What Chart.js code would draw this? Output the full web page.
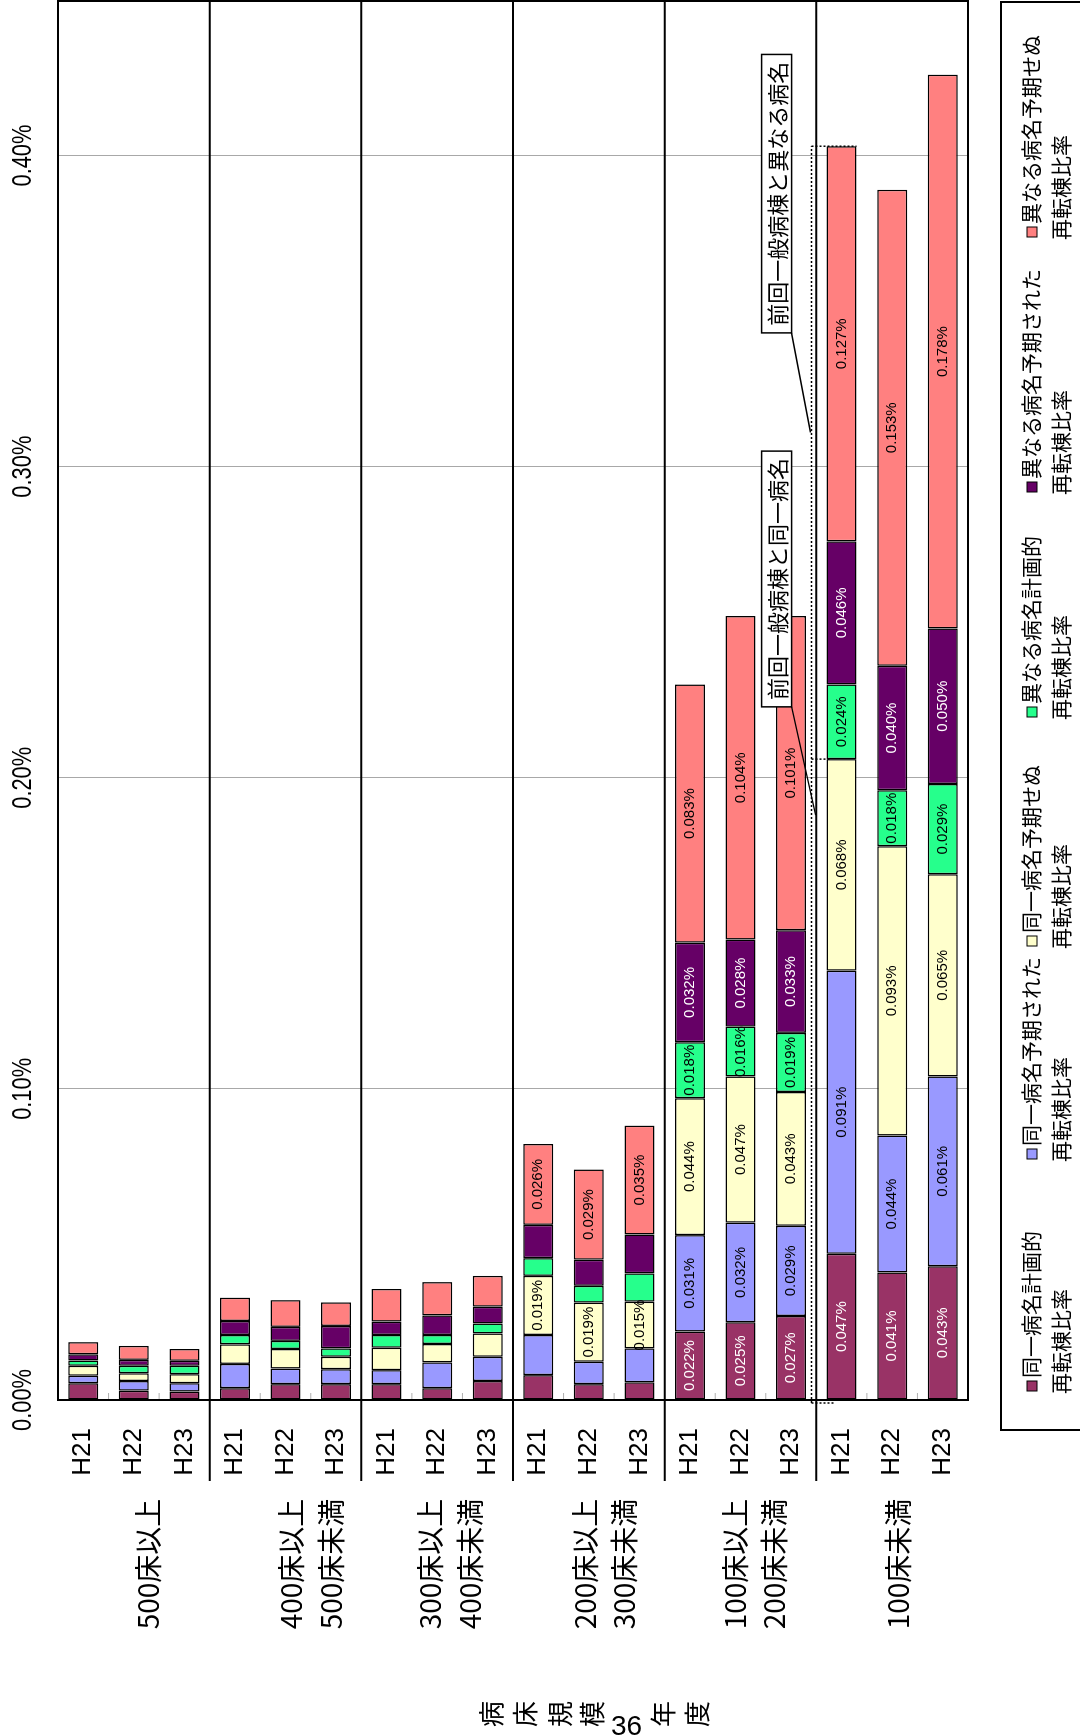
<!DOCTYPE html>
<html lang="ja">
<head>
<meta charset="utf-8">
<script src="https://cdn.jsdelivr.net/npm/chart.js@4.4.1/dist/chart.umd.min.js"></script>
<style>
  html, body { margin: 0; padding: 0; background: #fff; }
  body { width: 1080px; height: 1735px; overflow: hidden; position: relative; }
  /* the chart is laid out landscape and turned to read bottom-to-top */
  #sheet {
    position: absolute; left: 0; top: 0; width: 1735px; height: 1080px;
    transform-origin: 0 0; transform: translate(0, 1735px) rotate(-90deg);
  }
  #page-no {
    position: absolute; left: 611px; top: 1712px;
    font: 28px 'Liberation Sans', Arial, sans-serif; line-height: 28px; color: #000;
  }
</style>
</head>
<body>
<div id="sheet"><canvas id="chart" width="1735" height="1080"></canvas></div>
<div id="page-no">36</div>
<script>
// 病床規模 x 年度, 再転棟比率 (%)
const years = ['H21', 'H22', 'H23'];
const groups = [
  ['500床以上'],
  ['400床以上', '500床未満'],
  ['300床以上', '400床未満'],
  ['200床以上', '300床未満'],
  ['100床以上', '200床未満'],
  ['100床未満']
];
const valueTicks = [0, 0.1, 0.2, 0.3, 0.4];

const samePlanned    = [0.0054, 0.0030, 0.0027, 0.0038, 0.0051, 0.0051, 0.0051, 0.0038, 0.0061, 0.0080, 0.0051, 0.0057, 0.022, 0.025, 0.027, 0.047, 0.041, 0.043];
const sameExpected   = [0.0024, 0.0031, 0.0027, 0.0078, 0.0050, 0.0048, 0.0045, 0.0083, 0.0078, 0.0129, 0.0072, 0.0109, 0.031, 0.032, 0.029, 0.091, 0.044, 0.061];
const sameUnexpected = [0.0032, 0.0025, 0.0029, 0.0063, 0.0063, 0.0040, 0.0072, 0.0059, 0.0075, 0.019, 0.019, 0.015, 0.044, 0.047, 0.043, 0.068, 0.093, 0.065];
const diffPlanned    = [0.0017, 0.0024, 0.0027, 0.0030, 0.0026, 0.0027, 0.0041, 0.0029, 0.0032, 0.0057, 0.0054, 0.0091, 0.018, 0.016, 0.019, 0.024, 0.018, 0.029];
const diffExpected   = [0.0020, 0.0019, 0.0016, 0.0045, 0.0045, 0.0072, 0.0043, 0.0063, 0.0054, 0.0107, 0.0084, 0.0125, 0.032, 0.028, 0.033, 0.046, 0.040, 0.050];
const diffUnexpected = [0.0039, 0.0045, 0.0038, 0.0075, 0.0086, 0.0076, 0.0105, 0.0107, 0.0099, 0.026, 0.029, 0.035, 0.083, 0.104, 0.101, 0.127, 0.153, 0.178];

const seriesNames = [
  ['同一病名計画的', '再転棟比率'],
  ['同一病名予期された', '再転棟比率'],
  ['同一病名予期せぬ', '再転棟比率'],
  ['異なる病名計画的', '再転棟比率'],
  ['異なる病名予期された', '再転棟比率'],
  ['異なる病名予期せぬ', '再転棟比率']
];
const series = [samePlanned, sameExpected, sameUnexpected, diffPlanned, diffExpected, diffUnexpected];
const colors = ['#993366', '#9999FF', '#FFFFCC', '#26FF8C', '#660066', '#FF8080'];
const whiteText = [true, false, false, false, true, false];
const labelMin = 0.015;

const labels = groups.flatMap(() => years);
const SANS = "'Liberation Sans', Arial, sans-serif";
const CJK = "'Noto Sans CJK JP', 'Noto Sans', sans-serif";

const barLabels = {
  id: 'barLabels',
  afterDatasetsDraw(chart) {
    const ctx = chart.ctx;
    ctx.save();
    ctx.font = '15px ' + SANS;
    ctx.textAlign = 'center';
    ctx.textBaseline = 'middle';
    chart.data.datasets.forEach((ds, i) => {
      chart.getDatasetMeta(i).data.forEach((bar, j) => {
        const v = ds.data[j];
        if (v < labelMin) return;
        ctx.fillStyle = whiteText[i] ? '#fff' : '#000';
        ctx.fillText(v.toFixed(3) + '%', (bar.x + bar.base) / 2, bar.y);
      });
    });
    ctx.restore();
  }
};

// percent labels on the value axis, drawn a bit condensed
const valueLabels = {
  id: 'valueLabels',
  afterDraw(chart) {
    const { ctx, scales: { x } } = chart;
    ctx.save();
    ctx.font = '28px ' + SANS;
    ctx.fillStyle = '#000';
    ctx.textAlign = 'center';
    ctx.textBaseline = 'middle';
    valueTicks.forEach(v => {
      ctx.save();
      ctx.translate(x.getPixelForValue(v), 23);
      ctx.scale(0.78, 1);
      ctx.fillText(v.toFixed(2) + '%', 0, 0);
      ctx.restore();
    });
    ctx.restore();
  }
};

const frame = {
  id: 'frame',
  afterDraw(chart) {
    const { ctx, chartArea: a, scales: { y } } = chart;
    const step = y.getPixelForValue(1) - y.getPixelForValue(0);
    ctx.save();

    // small inner ticks between years
    ctx.strokeStyle = '#b0b0b0';
    ctx.lineWidth = 1;
    for (let i = 1; i < labels.length; i++) {
      if (i % 3 === 0) continue;
      const py = y.getPixelForValue(i) - step / 2;
      ctx.beginPath();
      ctx.moveTo(a.left, py);
      ctx.lineTo(a.left + 7, py);
      ctx.stroke();
    }

    // plot border
    ctx.strokeStyle = '#000';
    ctx.lineWidth = 2;
    ctx.strokeRect(a.left, a.top, a.right - a.left - 1, a.bottom - a.top);

    // group separators, running out through the year labels
    for (let g = 1; g < groups.length; g++) {
      const py = y.getPixelForValue(g * 3) - step / 2;
      ctx.beginPath();
      ctx.moveTo(254, py);
      ctx.lineTo(a.right, py);
      ctx.stroke();
    }

    // group names
    const nameY = [[148], [291, 331], [430, 470], [585, 624], [735, 774], [898]];
    ctx.fillStyle = '#000';
    ctx.font = '28px ' + CJK;
    ctx.textAlign = 'center';
    ctx.textBaseline = 'middle';
    groups.forEach((lines, g) => {
      lines.forEach((t, k) => ctx.fillText(t, 171, nameY[g][k]));
    });

    // axis titles, written vertically
    ctx.font = '26px ' + CJK;
    [['病', 491], ['床', 525], ['規', 560], ['模', 592], ['年', 663], ['度', 697]]
      .forEach(([ch, py]) => ctx.fillText(ch, 21, py));
    ctx.restore();
  }
};

const callouts = {
  id: 'callouts',
  afterDraw(chart) {
    const { ctx, scales: { x, y } } = chart;
    const i = 15;
    const cy = y.getPixelForValue(i);
    const sameTop = samePlanned[i] + sameExpected[i] + sameUnexpected[i];
    const allTop = sameTop + diffPlanned[i] + diffExpected[i] + diffUnexpected[i];
    const lineY = cy - 30;
    ctx.save();

    // dotted bracket around the two halves of the bar
    ctx.strokeStyle = '#000';
    ctx.lineWidth = 1.5;
    ctx.setLineDash([2, 2]);
    const x0 = x.getPixelForValue(0) - 3;
    const xMid = x.getPixelForValue(sameTop);
    const xTop = x.getPixelForValue(allTop);
    ctx.beginPath();
    ctx.moveTo(x0, lineY); ctx.lineTo(xTop, lineY);
    ctx.moveTo(xTop, lineY); ctx.lineTo(xTop, cy + 15);
    ctx.moveTo(xMid, lineY); ctx.lineTo(xMid, cy - 12);
    ctx.moveTo(x0, lineY); ctx.lineTo(x0, cy - 7);
    ctx.stroke();
    ctx.setLineDash([]);

    // text boxes with leader lines
    const boxes = [
      { text: '前回一般病棟と異なる病名', from: 0.343, to: 0.4325, tip: 0.311, tipDy: -31 },
      { text: '前回一般病棟と同一病名', from: 0.2228, to: 0.305, tip: 0.188, tipDy: -26 }
    ];
    ctx.font = '22px ' + CJK;
    ctx.textAlign = 'center';
    ctx.textBaseline = 'middle';
    boxes.forEach(b => {
      const l = x.getPixelForValue(b.from);
      const r = x.getPixelForValue(b.to);
      const top = cy - 80, bot = cy - 50;
      ctx.lineWidth = 1.5;
      ctx.beginPath();
      ctx.moveTo(l, bot);
      ctx.lineTo(x.getPixelForValue(b.tip), cy + b.tipDy);
      ctx.stroke();
      ctx.fillStyle = '#fff';
      ctx.fillRect(l, top, r - l, bot - top);
      ctx.strokeRect(l, top, r - l, bot - top);
      ctx.fillStyle = '#000';
      ctx.fillText(b.text, (l + r) / 2, (top + bot) / 2 + 1);
    });
    ctx.restore();
  }
};

const legendBox = {
  id: 'legendBox',
  afterDraw(chart) {
    const ctx = chart.ctx;
    const slots = [349, 581, 794, 1023, 1248, 1503];
    ctx.save();
    ctx.strokeStyle = '#000';
    ctx.lineWidth = 2;
    ctx.strokeRect(305, 1001, 1428, 100);
    ctx.font = '21px ' + CJK;
    ctx.textAlign = 'left';
    ctx.textBaseline = 'middle';
    seriesNames.forEach((lines, k) => {
      const lx = slots[k];
      ctx.fillStyle = colors[k];
      ctx.fillRect(lx - 5, 1027, 10, 10);
      ctx.lineWidth = 1;
      ctx.strokeRect(lx - 5, 1027, 10, 10);
      ctx.fillStyle = '#000';
      ctx.fillText(lines[0], lx + 8, 1031);
      ctx.fillText(lines[1], lx - 8, 1061);
    });
    ctx.restore();
  }
};

new Chart(document.getElementById('chart'), {
  type: 'bar',
  data: {
    labels,
    datasets: series.map((data, k) => ({
      label: seriesNames[k].join(''),
      data,
      backgroundColor: colors[k],
      borderColor: '#000',
      borderWidth: 1.5,
      borderSkipped: false,
      barPercentage: 0.593,
      categoryPercentage: 1
    }))
  },
  options: {
    indexAxis: 'y',
    responsive: false,
    animation: false,
    devicePixelRatio: 1,
    layout: { padding: { top: 0, right: 0, bottom: 112, left: 0 } },
    plugins: {
      legend: { display: false },
      tooltip: { enabled: false }
    },
    scales: {
      x: {
        position: 'top',
        stacked: true,
        min: 0,
        max: 0.45,
        afterBuildTicks: s => { s.ticks = valueTicks.map(v => ({ value: v })) },
        afterFit: s => { s.height = 58 },
        grid: { color: '#a8a8a8', lineWidth: 1, drawTicks: false },
        border: { display: false },
        ticks: { display: false }
      },
      y: {
        stacked: true,
        afterFit: s => { s.width = 335 },
        grid: { display: false, drawTicks: false },
        border: { display: false },
        ticks: {
          padding: 28,
          autoSkip: false,
          color: '#000',
          font: { family: SANS, size: 26 }
        }
      }
    }
  },
  plugins: [barLabels, valueLabels, frame, callouts, legendBox]
});
</script>
</body>
</html>
